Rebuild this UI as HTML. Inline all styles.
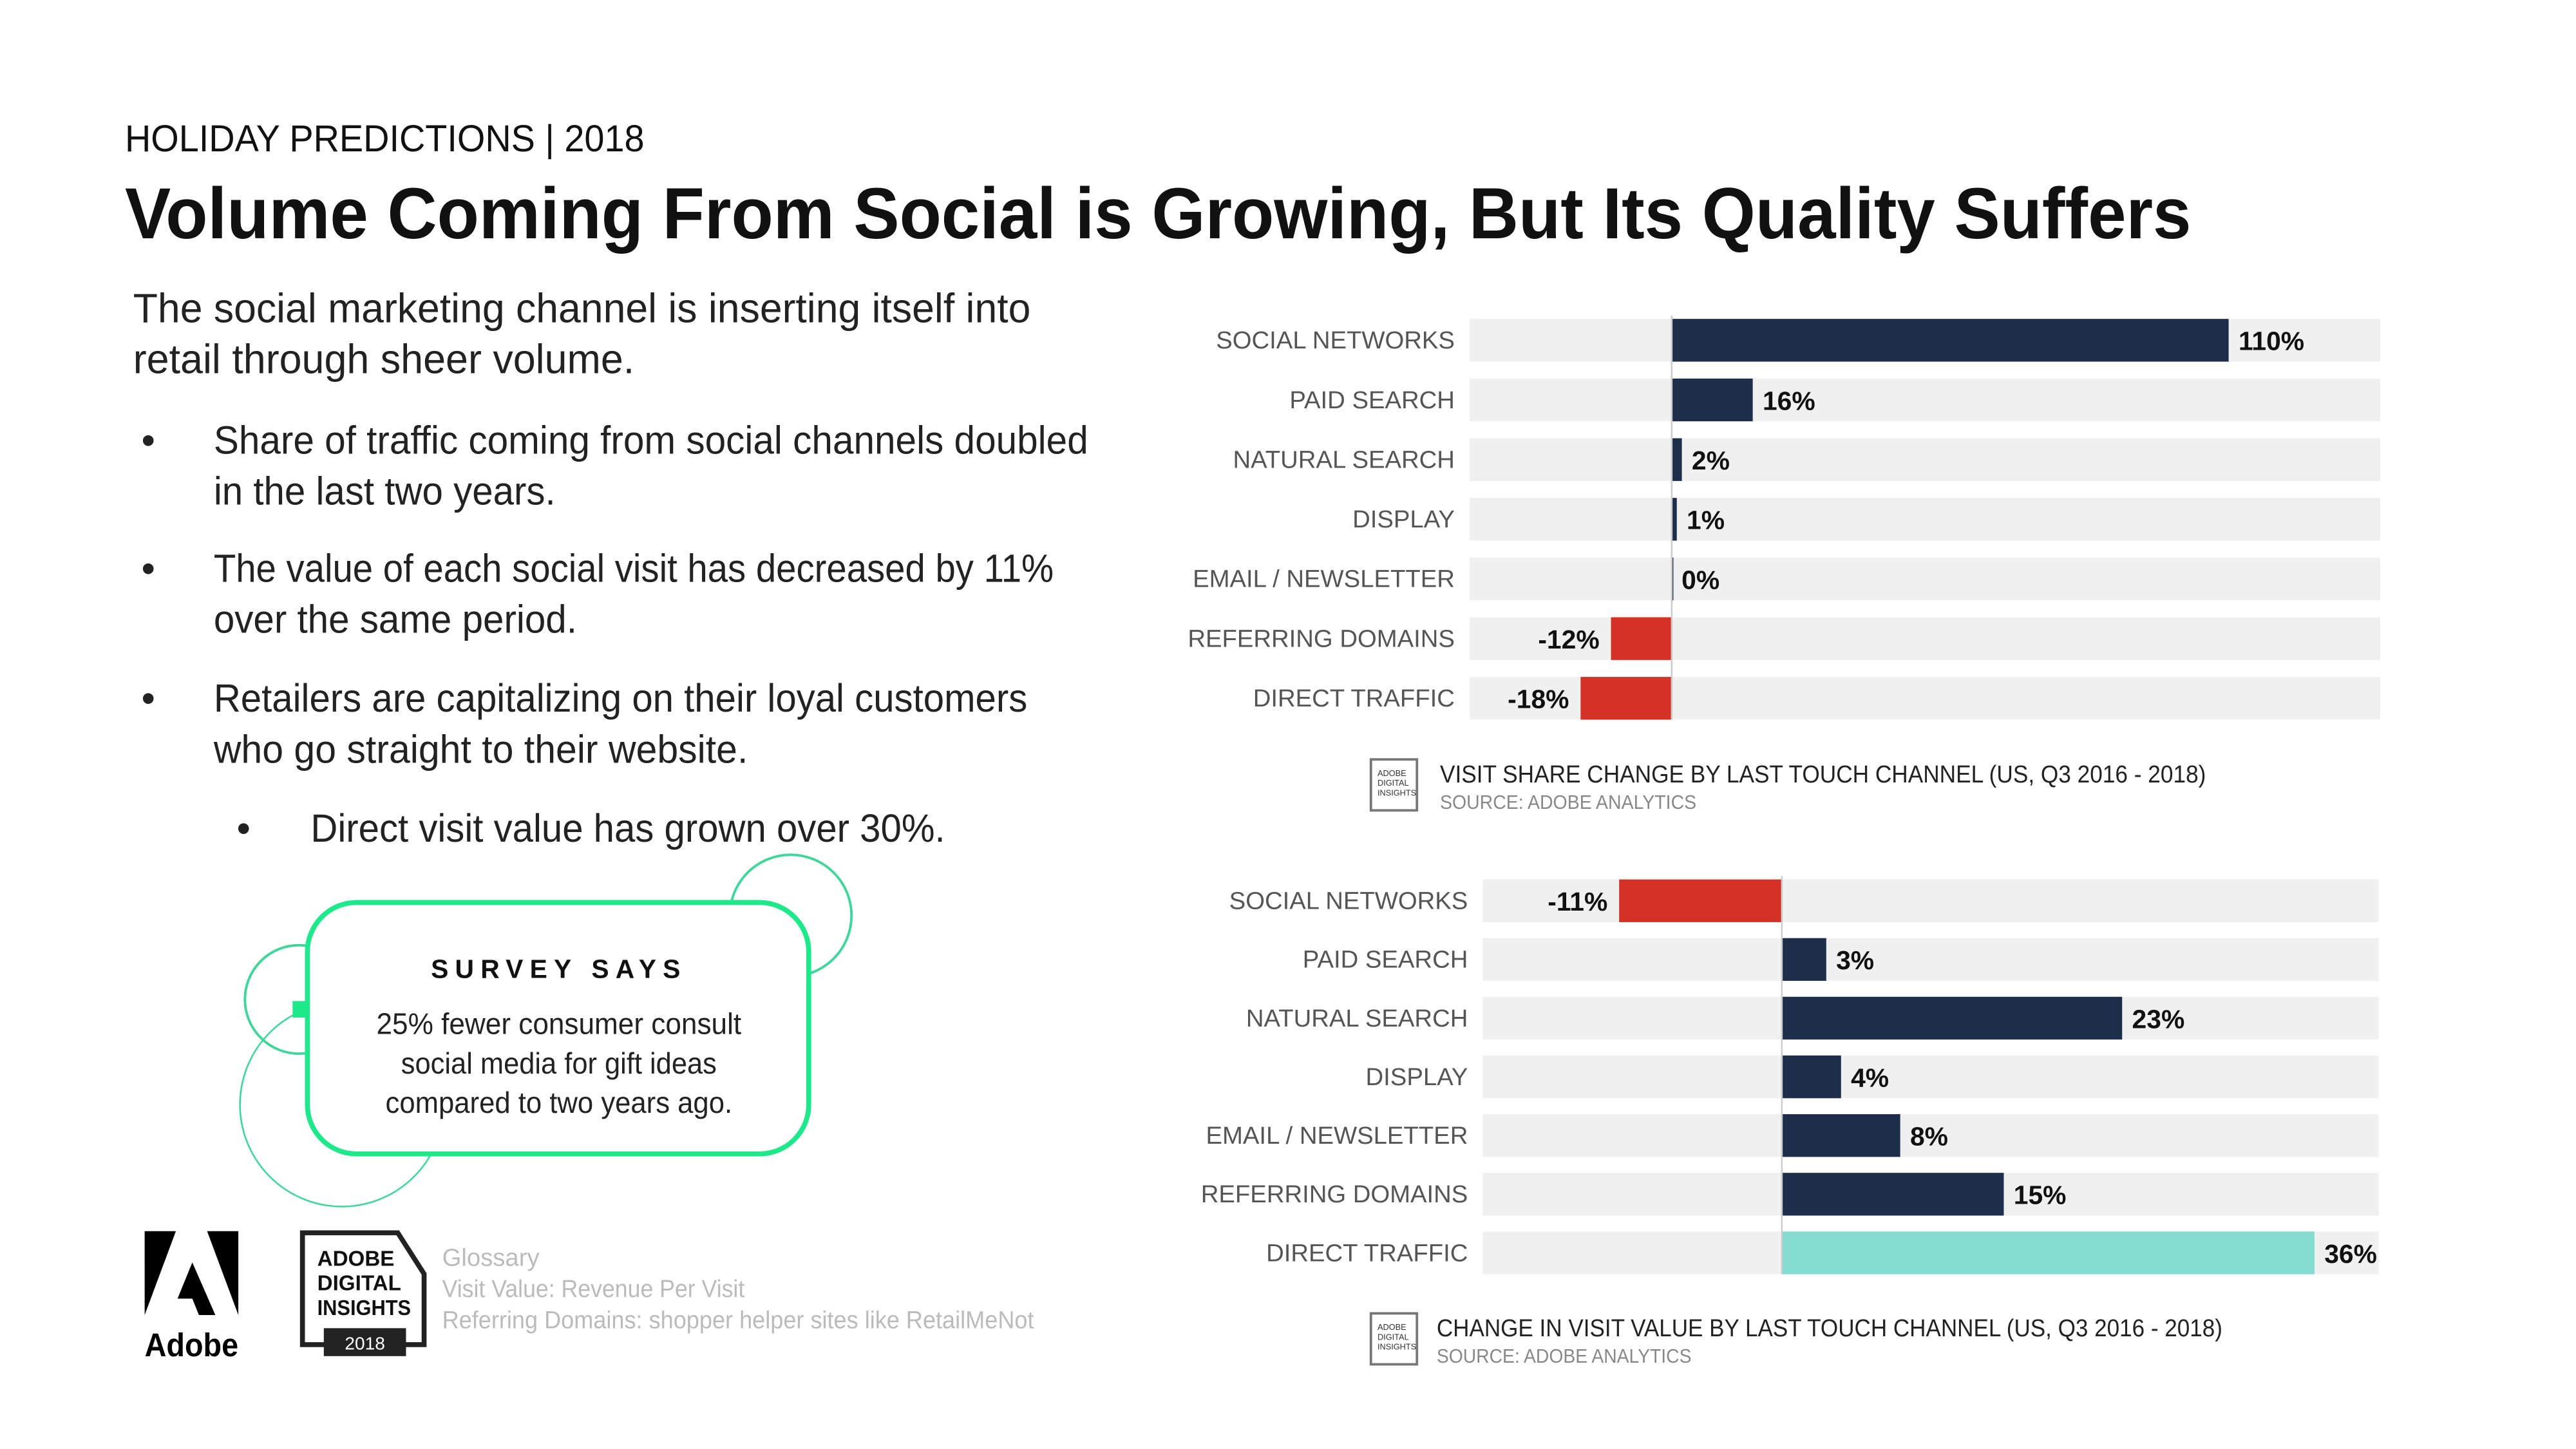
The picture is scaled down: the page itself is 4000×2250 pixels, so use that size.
<!DOCTYPE html>
<html><head><meta charset="utf-8">
<style>
html,body{margin:0;padding:0;background:#fff;}
svg{display:block;font-family:"Liberation Sans",sans-serif;}
</style></head>
<body>
<svg id="root" width="4000" height="2250" viewBox="0 0 1567 881.5" preserveAspectRatio="xMinYMin meet" xmlns="http://www.w3.org/2000/svg">
<rect width="1567" height="882" fill="#fff"/>
<text x="76" y="92" font-size="23" fill="#111" textLength="316" lengthAdjust="spacingAndGlyphs">HOLIDAY PREDICTIONS | 2018</text>
<text x="76" y="145" font-size="44" font-weight="bold" fill="#111" textLength="1257" lengthAdjust="spacingAndGlyphs">Volume Coming From Social is Growing, But Its Quality Suffers</text>
<g font-size="25" fill="#222">
<text x="81" y="196" textLength="546" lengthAdjust="spacingAndGlyphs">The social marketing channel is inserting itself into</text>
<text x="81" y="227" textLength="305" lengthAdjust="spacingAndGlyphs">retail through sheer volume.</text>
</g>
<g font-size="24" fill="#222">
<text x="86" y="276">•</text>
<text x="130" y="276" textLength="532" lengthAdjust="spacingAndGlyphs">Share of traffic coming from social channels doubled</text>
<text x="130" y="307" textLength="208" lengthAdjust="spacingAndGlyphs">in the last two years.</text>
<text x="86" y="354">•</text>
<text x="130" y="354" textLength="511" lengthAdjust="spacingAndGlyphs">The value of each social visit has decreased by 11%</text>
<text x="130" y="385" textLength="221" lengthAdjust="spacingAndGlyphs">over the same period.</text>
<text x="86" y="433">•</text>
<text x="130" y="433" textLength="495" lengthAdjust="spacingAndGlyphs">Retailers are capitalizing on their loyal customers</text>
<text x="130" y="464" textLength="325" lengthAdjust="spacingAndGlyphs">who go straight to their website.</text>
<text x="144" y="512">•</text>
<text x="189" y="512" textLength="386" lengthAdjust="spacingAndGlyphs">Direct visit value has grown over 30%.</text>
</g>
<g fill="none" stroke="#3fd69a" stroke-width="1">
<circle cx="481" cy="557" r="37" stroke-width="1.5"/>
<circle cx="182" cy="608" r="33" stroke-width="1.5"/>
<circle cx="208" cy="672" r="62"/>
<rect x="178" y="609" width="9" height="10" fill="#1de98b" stroke="none"/>
</g>
<g>
<rect x="187" y="549" width="305" height="153" rx="30" fill="#fff" stroke="#1de98b" stroke-width="3"/>
<text x="340" y="595" text-anchor="middle" font-size="16" font-weight="bold" letter-spacing="4" fill="#111">SURVEY SAYS</text>
<text x="340" y="629" text-anchor="middle" font-size="18" fill="#222" textLength="222" lengthAdjust="spacingAndGlyphs">25% fewer consumer consult</text>
<text x="340" y="653" text-anchor="middle" font-size="18" fill="#222" textLength="192" lengthAdjust="spacingAndGlyphs">social media for gift ideas</text>
<text x="340" y="677" text-anchor="middle" font-size="18" fill="#222" textLength="211" lengthAdjust="spacingAndGlyphs">compared to two years ago.</text>
</g>
<g>
<polygon points="88,749 107,749 88,800" fill="#000"/>
<polygon points="126,749 145,749 145,800" fill="#000"/>
<polygon points="117,768 131,800 121,800 117,790 108,790" fill="#000"/>
<text x="88" y="825" font-size="20" font-weight="bold" fill="#000" textLength="57" lengthAdjust="spacingAndGlyphs">Adobe</text>
</g>
<g>
<polygon points="184,750 242,750 258,775 258,818 184,818" fill="#fff" stroke="#222" stroke-width="3"/>
<text x="193" y="770" font-size="13" font-weight="bold" fill="#111">ADOBE</text>
<text x="193" y="785" font-size="13" font-weight="bold" fill="#111">DIGITAL</text>
<text x="193" y="800" font-size="13" font-weight="bold" fill="#111" textLength="57" lengthAdjust="spacingAndGlyphs">INSIGHTS</text>
<rect x="197" y="808" width="50" height="17" fill="#222"/>
<text x="222" y="821" font-size="11" fill="#fff" text-anchor="middle">2018</text>
</g>
<g font-size="15" fill="#bbb">
<text x="269" y="770">Glossary</text>
<text x="269" y="789" textLength="184" lengthAdjust="spacingAndGlyphs">Visit Value: Revenue Per Visit</text>
<text x="269" y="808" textLength="360" lengthAdjust="spacingAndGlyphs">Referring Domains: shopper helper sites like RetailMeNot</text>
</g>
<g id="chart1"></g>
<g id="chart2"></g>
<g>
<rect x="834" y="462" width="28" height="31" fill="#fff" stroke="#777" stroke-width="1.5"/>
<text x="838" y="472" font-size="5" fill="#333">ADOBE</text><text x="838" y="478" font-size="5" fill="#333">DIGITAL</text><text x="838" y="484" font-size="5" fill="#333">INSIGHTS</text>
<text x="876" y="476" font-size="15" fill="#222" textLength="466" lengthAdjust="spacingAndGlyphs">VISIT SHARE CHANGE BY LAST TOUCH CHANNEL (US, Q3 2016 - 2018)</text>
<text x="876" y="492" font-size="12" fill="#888" textLength="156" lengthAdjust="spacingAndGlyphs">SOURCE: ADOBE ANALYTICS</text>
</g>
<g>
<rect x="834" y="799" width="28" height="31" fill="#fff" stroke="#777" stroke-width="1.5"/>
<text x="838" y="809" font-size="5" fill="#333">ADOBE</text><text x="838" y="815" font-size="5" fill="#333">DIGITAL</text><text x="838" y="821" font-size="5" fill="#333">INSIGHTS</text>
<text x="874" y="813" font-size="15" fill="#222" textLength="478" lengthAdjust="spacingAndGlyphs">CHANGE IN VISIT VALUE BY LAST TOUCH CHANNEL (US, Q3 2016 - 2018)</text>
<text x="874" y="829" font-size="12" fill="#888" textLength="155" lengthAdjust="spacingAndGlyphs">SOURCE: ADOBE ANALYTICS</text>
</g>
</svg>
<script>
const categories = ["SOCIAL NETWORKS","PAID SEARCH","NATURAL SEARCH","DISPLAY","EMAIL / NEWSLETTER","REFERRING DOMAINS","DIRECT TRAFFIC"];
const shareValues = [110,16,2,1,0,-12,-18];
const valueValues = [-11,3,23,4,8,15,36];
const NS = "http://www.w3.org/2000/svg";
function mk(tag, attrs, parent){const e=document.createElementNS(NS,tag);for(const k in attrs)e.setAttribute(k,attrs[k]);parent.appendChild(e);return e;}
function draw(g, vals, cfg){
  const x = v => cfg.zero + v*cfg.ppu;
  vals.forEach((v,i)=>{
    const cy = cfg.y0 + i*cfg.step;
    const track = mk('rect',{x:cfg.trackL,y:cy-13,width:cfg.trackR-cfg.trackL,height:26,fill:'#f0f0f0'},g);
    
    
    const lab = mk('text',{x:cfg.labelX,y:cy+5,'text-anchor':'end','font-size':15,fill:'#555'},g);
    lab.textContent = categories[i];
    
    
    let col = v<0 ? '#d43227' : (cfg.hl===i ? '#84dbd0' : '#1d2e4a');
    const x0 = Math.min(x(0),x(v)), w = Math.max(Math.abs(x(v)-x(0)), v===0?1:0);
    const bar = mk('rect',{x:x0,y:cy-13,width:w,height:26,fill:col},g);
    
    
    const vl = mk('text',{x: v<0 ? x(v)-7 : x(v)+6, y:cy+6,'text-anchor': v<0?'end':'start','font-size':16,'font-weight':'bold',fill:'#111'},g);
    vl.textContent = v+'%';
    
    
  });
  const ax = mk('line',{x1:x(0),x2:x(0),y1:cfg.y0-15,y2:cfg.y0+6*cfg.step+13,stroke:'#ccc','stroke-width':1},g);
  
  
}
draw(document.getElementById('chart1'), shareValues, {zero:1017, ppu:3.08, y0:207, step:36.3, trackL:894, trackR:1448, labelX:885, hl:-1});
draw(document.getElementById('chart2'), valueValues, {zero:1084, ppu:9.0, y0:548, step:35.7, trackL:902, trackR:1447, labelX:893, hl:6});
</script>
</body></html>
